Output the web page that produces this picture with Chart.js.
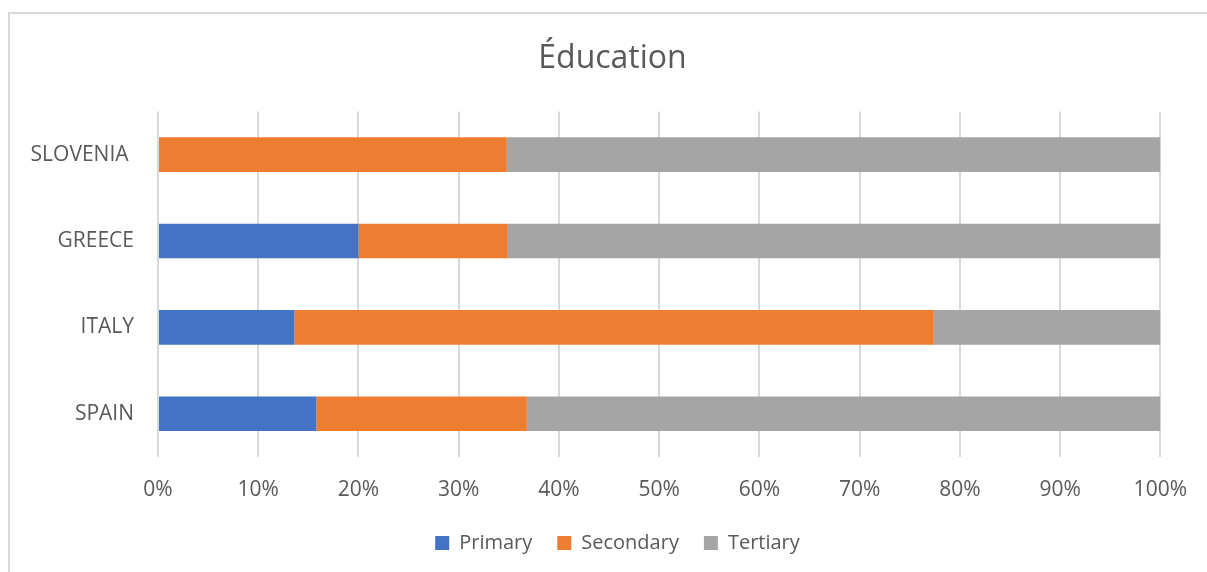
<!DOCTYPE html>
<html>
<head>
<meta charset="utf-8">
<script src="https://cdn.jsdelivr.net/npm/chart.js@4"></script>
<style>
  body { margin: 0; background: #fff; }
  #frame { position: absolute; left: 8px; top: 12px; width: 1220px; height: 600px; border: 2px solid #d9d9d9; }
  #wrap { position: absolute; left: 0; top: 0; width: 1207px; height: 572px; }
</style>
</head>
<body>
<div id="frame"></div>
<div id="wrap"><canvas id="myChart"></canvas></div>
<script>
// shares in percent, top row first
var countries = ['SLOVENIA ', 'GREECE', 'ITALY', 'SPAIN'];
var primary = [0, 20.0, 13.6, 15.8];
var secondary = [34.8, 14.9, 63.8, 21.0];
var tertiary = [65.2, 65.1, 22.6, 63.2];

var grey = '#595959';
var fontName = '"Open Sans", "Noto Sans", sans-serif';

// title and legend sit centred on the whole frame, not on the plot
var shiftBoxes = {
	id: 'shiftBoxes',
	afterLayout: function (chart) {
		chart.titleBlock.left += 32;
		chart.titleBlock.right += 32;
		chart.legend.left += 37;
		chart.legend.right += 37;
	}
};

var ctx = document.getElementById('myChart').getContext('2d');
var myChart = new Chart(ctx, {
	type: 'bar',
	data: {
		labels: countries,
		datasets: [
			{ label: 'Primary', data: primary, backgroundColor: '#4472C4' },
			{ label: 'Secondary', data: secondary, backgroundColor: '#ED7D31' },
			{ label: 'Tertiary', data: tertiary, backgroundColor: '#A5A5A5' }
		]
	},
	options: {
		indexAxis: 'y',
		responsive: true,
		maintainAspectRatio: false,
		animation: false,
		barPercentage: 0.8,
		categoryPercentage: 0.5,
		layout: { padding: { left: 0, right: 46, top: 0, bottom: 9 } },
		scales: {
			x: {
				stacked: true,
				min: 0,
				max: 100,
				grid: { color: '#d9d9d9', lineWidth: 2, drawTicks: false },
				border: { display: false },
				ticks: {
					stepSize: 10,
					padding: 20,
					color: grey,
					font: { family: fontName, size: 21 },
					callback: function (v) { return v + '%'; }
				},
				afterFit: function (scale) { scale.height = 51; }
			},
			y: {
				stacked: true,
				grid: { display: false },
				border: { display: false },
				ticks: { padding: 16, color: grey, font: { family: fontName, size: 21 } },
				afterFit: function (scale) { scale.width = 158; }
			}
		},
		plugins: {
			title: {
				display: true,
				text: 'Éducation',
				color: grey,
				font: { family: fontName, size: 32, weight: 'normal' },
				padding: { top: 40, bottom: 33 }
			},
			legend: {
				position: 'bottom',
				labels: {
					boxWidth: 14,
					boxHeight: 14,
					padding: 25,
					color: grey,
					font: { family: fontName, size: 20 }
				}
			},
			tooltip: { enabled: false }
		}
	},
	plugins: [shiftBoxes]
});
</script>
</body>
</html>
